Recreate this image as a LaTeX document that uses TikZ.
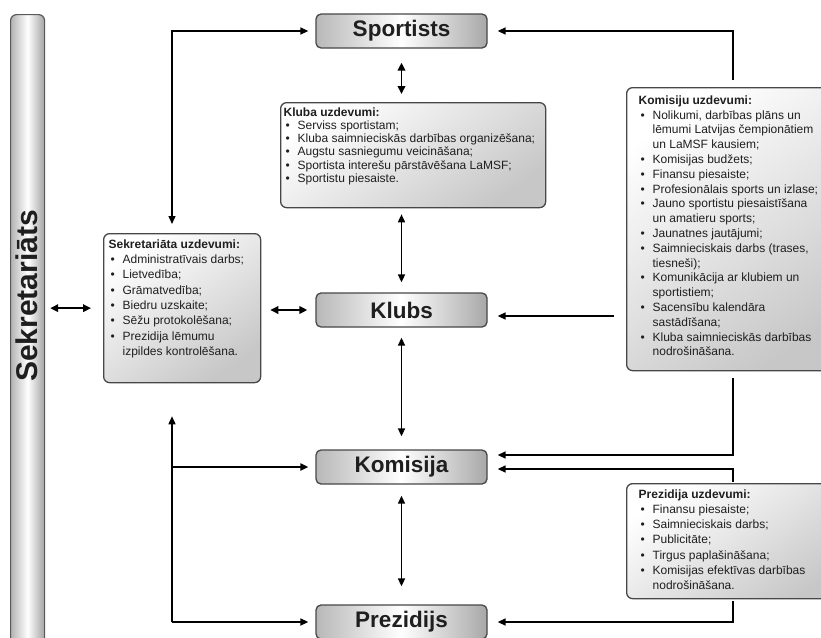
\documentclass[tikz,border=0pt]{standalone}
\usepackage{fontspec}
\setmainfont{Liberation Sans}
\usetikzlibrary{arrows.meta,calc}
\newcommand\bitem[1]{\makebox[14pt][l]{\hspace{2pt}\textbullet}#1\par}
\newcommand\bcont[1]{\hspace*{14pt}#1\par}
\newcommand\btitle[1]{\textbf{#1}\par}
\begin{document}
\begin{tikzpicture}[x=1pt,y=-1pt,
  titlebox/.style={draw=black!72, line width=1.3pt, rounded corners=5pt,
    minimum width=171pt, minimum height=34pt, inner sep=0pt,
    left color=black!28, right color=black!34, middle color=white,
    font=\fontsize{22.5}{22.5}\selectfont\bfseries, text=black!88},
  listbox/.style={draw=black!72, line width=1.3pt, rounded corners=6pt,
    anchor=north west, top color=white, bottom color=black!22, shading angle=35,
    text=black!88},
  arr/.style={line width=1.6pt, -{Triangle[length=8pt,width=7pt]}},
  dbl/.style={line width=1.9pt, {Triangle[length=8pt,width=7.5pt]}-{Triangle[length=8pt,width=7.5pt]}},
  dblthin/.style={line width=1.6pt, {Triangle[length=8pt,width=7pt]}-{Triangle[length=8pt,width=7pt]}}
]
\useasboundingbox (0,0) rectangle (821,637);

% Sekretariats bar
\node[draw=black!65, line width=1.2pt, rounded corners=6pt, minimum width=34pt,
  minimum height=640pt, inner sep=0pt, left color=black!30, right color=black!36,
  middle color=white, anchor=north west] (sekbar) at (10,14) {};
\node[rotate=90, font=\fontsize{30}{30}\selectfont\bfseries, text=black!88]
  (sektext) at (27,296) {Sekretariāts};

% title boxes
\node[titlebox] (sportists) at (401.5,31) {Sportists};
\node[titlebox] (klubs) at (401.5,310) {Klubs};
\node[titlebox] (komisija) at (401.5,467) {Komisija};
\node[titlebox] (prezidijs) at (401.5,622) {Prezidijs};

% Kluba uzdevumi
\node[listbox, inner xsep=3pt, inner ysep=5pt] (kluba) at (280,102)
 {\begin{minipage}[t][95pt][t]{259pt}\fontsize{12}{13.2}\selectfont
  \btitle{Kluba uzdevumi:}
  \bitem{Serviss sportistam;}
  \bitem{Kluba saimnieciskās darbības organizēšana;}
  \bitem{Augstu sasniegumu veicināšana;}
  \bitem{Sportista interešu pārstāvēšana LaMSF;}
  \bitem{Sportistu  piesaiste.}
 \end{minipage}};

% Komisiju uzdevumi
\node[listbox, inner xsep=12pt, inner ysep=8pt] (komU) at (626,87)
 {\begin{minipage}[t][267pt][t]{200pt}\fontsize{12}{14.8}\selectfont
  \btitle{Komisiju uzdevumi:}
  \bitem{Nolikumi, darbības plāns un}
  \bcont{lēmumi  Latvijas čempionātiem}
  \bcont{un LaMSF kausiem;}
  \bitem{Komisijas budžets;}
  \bitem{Finansu piesaiste;}
  \bitem{Profesionālais sports un izlase;}
  \bitem{Jauno sportistu piesaistīšana}
  \bcont{un amatieru sports;}
  \bitem{Jaunatnes jautājumi;}
  \bitem{Saimnieciskais darbs (trases,}
  \bcont{tiesneši);}
  \bitem{Komunikācija ar klubiem un}
  \bcont{sportistiem;}
  \bitem{Sacensību kalendāra}
  \bcont{sastādīšana;}
  \bitem{Kluba saimnieciskās darbības}
  \bcont{nodrošināšana.}
 \end{minipage}};

% Sekretariata uzdevumi
\node[listbox, inner xsep=5pt, inner ysep=6pt] (sekU) at (103,233)
 {\begin{minipage}[t][137pt][t]{147pt}\fontsize{12}{15.3}\selectfont
  \btitle{Sekretariāta uzdevumi:}
  \bitem{Administratīvais darbs;}
  \bitem{Lietvedība;}
  \bitem{Grāmatvedība;}
  \bitem{Biedru uzskaite;}
  \bitem{Sēžu protokolēšana;}
  \bitem{Prezidija lēmumu}
  \bcont{izpildes kontrolēšana.}
 \end{minipage}};

% Prezidija uzdevumi
\node[listbox, inner xsep=12pt, inner ysep=6pt] (prezU) at (626,483)
 {\begin{minipage}[t][103pt][t]{200pt}\fontsize{12}{15.2}\selectfont
  \btitle{Prezidija uzdevumi:}
  \bitem{Finansu  piesaiste;}
  \bitem{Saimnieciskais darbs;}
  \bitem{Publicitāte;}
  \bitem{Tirgus paplašināšana;}
  \bitem{Komisijas efektīvas darbības}
  \bcont{nodrošināšana.}
 \end{minipage}};

% helper coordinates
\coordinate (lx) at (172,0);
\coordinate (rx) at (733,0);
\coordinate (kly) at (0,316);

% connectors
\draw[dbl, shorten <=5pt, shorten >=12pt] (sekbar.east |- sekU.west) -- (sekU.west);
\draw[dbl, shorten <=9pt, shorten >=8pt] (sekU.east |- klubs.west) -- (klubs.west);
\draw[dblthin, line width=1.4pt, shorten <=9pt, shorten >=7pt] (lx |- sekU.north) |- (sportists.west);
\draw[dbl, shorten <=14pt, shorten >=8pt] (sportists.south) -- (sportists.south |- kluba.north);
\draw[dblthin, shorten <=6pt, shorten >=10pt] (klubs.north |- kluba.south) -- (klubs.north);
\draw[dblthin, shorten <=10pt, shorten >=13pt] (klubs.south) -- (komisija.north);
\draw[dblthin, shorten <=11pt, shorten >=18pt] (komisija.south) -- (prezidijs.north);

\draw[arr, line width=1.4pt, shorten <=7pt, shorten >=10pt] (rx |- komU.north) |- (sportists.east);
\draw[arr, shorten <=12pt, shorten >=10pt] (komU.west |- kly) -- (klubs.east |- kly);
\draw[arr, line width=1.4pt, shorten <=7pt, shorten >=10pt] (rx |- komU.south) |- ($(komisija.east)+(0,-12)$);
\draw[arr, line width=1.4pt, shorten <=1pt, shorten >=10pt] (rx |- prezU.north) |- ($(komisija.east)+(0,2)$);
\draw[arr, line width=1.4pt, shorten <=2pt, shorten >=10pt] (rx |- prezU.south) |- (prezidijs.east);

\draw[arr, shorten >=33pt] (lx |- prezidijs.west) -- (lx |- sekU.south);
\draw[arr, shorten >=7pt] (lx |- prezidijs.west) -- (prezidijs.west);
\draw[arr, line width=2.3pt, shorten >=7pt] (lx |- komisija.west) -- (komisija.west);
\end{tikzpicture}
\end{document}
